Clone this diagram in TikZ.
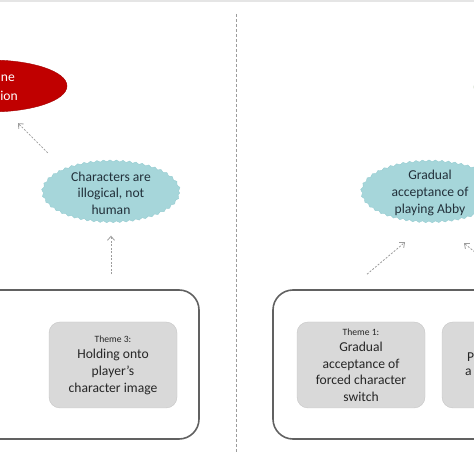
\documentclass[tikz,border=0pt]{standalone}
\usepackage{fontspec}
\setmainfont{Carlito}
\usetikzlibrary{arrows.meta,positioning,shapes.geometric,decorations.pathmorphing}
\definecolor{frame}{HTML}{616161}
\definecolor{tile}{HTML}{D9D9D9}
\definecolor{tileedge}{HTML}{C6C6C6}
\definecolor{mist}{HTML}{A6D6DA}
\definecolor{mistedge}{HTML}{95CCD1}
\definecolor{wine}{HTML}{C00000}
\definecolor{leaf}{HTML}{4E7A2A}
\definecolor{guide}{HTML}{9C9C9C}
\definecolor{txt}{HTML}{262626}
\definecolor{slate}{HTML}{22303A}
\newcommand{\thmtag}[1]{{\fontsize{9.6}{11}\selectfont #1}}
\tikzset{
  grp/.style={draw=frame,line width=1.6pt,rounded corners=20pt,minimum width=#1,minimum height=149pt,inner sep=0pt},
  thm/.style={draw=tileedge,fill=tile,rounded corners=11pt,minimum width=128pt,minimum height=86pt,align=center,inner sep=2pt,text=txt,font=\fontsize{13.6}{16.6}\selectfont},
  cloud/.style={ellipse,fill=mist,draw=mistedge,line width=.4pt,decorate,decoration={snake,amplitude=.9pt,segment length=6.5pt},minimum width=137pt,minimum height=61pt,inner sep=-2pt,align=center,text=slate,font=\fontsize{13.6}{16.6}\selectfont},
  oval/.style={ellipse,fill=#1,draw=#1!85!black,minimum width=154pt,minimum height=52pt,inner sep=0pt},
  cut/.style={inner sep=0pt,text=#1,font=\fontsize{13.6}{16.6}\selectfont},
  fl/.style={-{Straight Barb[length=4pt,width=7pt]},draw=guide,line width=.8pt,dash pattern=on 2pt off 1.5pt},
}
\begin{document}
\begin{tikzpicture}[x=1pt,y=1pt]
\useasboundingbox (0,0) rectangle (474,474);
\clip (0,0) rectangle (474,474);
\fill[black!10] (0,472) rectangle (474,474);
% divider
\draw[guide,line width=.7pt,dash pattern=on 3pt off 2pt] (236,460) -- (236,22);
% top row
\node[oval=wine] (fate) at (-10,388) {};
\node[cut=white,anchor=east] (fate1) at (15,396) {ne};
\node[cut=white,anchor=east] (fate2) at (18,378) {ion};
\node[oval=leaf] (grow) at (551,387) {};
% middle row
\node[cloud] (illog) at (111,281) {Characters are\\illogical, not\\human};
\node[cloud] (accept) at (430,281) {Gradual\\acceptance of\\playing Abby};
% groups and themes
\node[grp=259pt] (leftgrp) at (69.5,109.5) {};
\node[grp=287pt] (rightgrp) at (416.5,109.5) {};
\node[thm] (th3) at (113,109) {\thmtag{Theme 3:}\\Holding onto\\player’s\\character image};
\node[thm] (th1) at (361,109) {\thmtag{Theme 1:}\\Gradual\\acceptance of\\forced character\\switch};
\node[thm] (th2) at (506,109) {};
\node[cut=txt,anchor=west] (th2a) at (467,117) {P};
\node[cut=txt,anchor=west] (th2b) at (465,102) {a};
% arrows
\draw[fl] ([shift={(-14.6,18.4)}]illog.north west) -- ([shift={(28,-11)}]fate.south);
\draw[fl,shorten <=15pt,shorten >=12pt] (leftgrp.north -| illog.south) -- (illog.south);
\draw[fl] ([shift={(6,15)}]th1.north |- rightgrp.north) -- ([shift={(-25,-18.5)}]accept.south);
\draw[fl] ([shift={(-4,15)}]th2.north |- rightgrp.north) -- ([shift={(34,-19.5)}]accept.south);
\end{tikzpicture}
\end{document}
